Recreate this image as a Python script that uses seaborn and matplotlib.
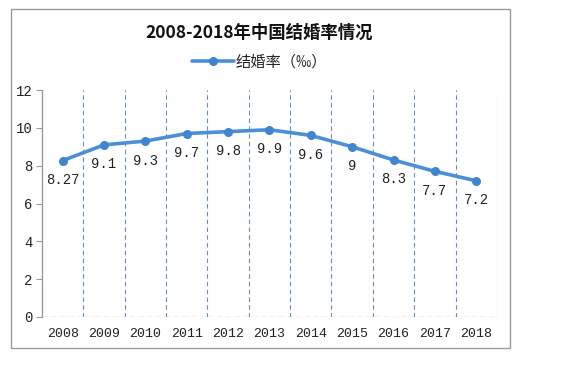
import numpy as np
import pandas as pd
import matplotlib
matplotlib.use("Agg")
import matplotlib.pyplot as plt
import seaborn as sns
from matplotlib.patches import Rectangle

years = ["2008", "2009", "2010", "2011", "2012", "2013", "2014", "2015", "2016", "2017", "2018"]
rate = [8.27, 9.1, 9.3, 9.7, 9.8, 9.9, 9.6, 9.0, 8.3, 7.7, 7.2]
labels = ["8.27", "9.1", "9.3", "9.7", "9.8", "9.9", "9.6", "9", "8.3", "7.7", "7.2"]

df = pd.DataFrame({"year": years, "rate": rate})
df["pos"] = np.arange(len(years))

sns.set_style("white")
plt.rcParams['font.family'] = ['Noto Sans CJK SC', 'DejaVu Sans']
num_font = ['Liberation Mono', 'DejaVu Sans Mono']

fig = plt.figure(figsize=(5.64, 3.68), dpi=100)
ax = fig.add_axes([0.0745, 0.1386, 0.8065, 0.6168])

line_color = "#4a8fd8"
sns.lineplot(data=df, x="pos", y="rate", ax=ax, color=line_color, linewidth=2.6,
             marker="o", markersize=6.5, markeredgewidth=0, markerfacecolor="#3f85d0",
             label="结婚率（‰）")

for i, (v, t) in enumerate(zip(rate, labels)):
    ax.annotate(t, (i, v), xytext=(0, -9), textcoords="offset points",
                ha="center", va="top", fontsize=10, color="#222222", family=num_font)

ax.set_xlim(-0.5, len(years) - 0.5)
ax.set_ylim(0, 12)
ax.set_yticks(range(0, 13, 2))
ax.set_xticks(df["pos"])
ax.set_xticklabels(years)
ax.set_xlabel("")
ax.set_ylabel("")
for lab in ax.get_xticklabels() + ax.get_yticklabels():
    lab.set_family(num_font)

for b in np.arange(0.5, len(years), 1.0):
    ax.axvline(b, color="#6a8fb0", linestyle=(0, (4, 3)), linewidth=0.8, zorder=0)
ax.axhline(0, color="#8a9aaa", linestyle=(0, (4, 3)), linewidth=0.9, zorder=0)

for s in ["top", "right", "bottom"]:
    ax.spines[s].set_visible(False)
ax.spines["left"].set_color("#999999")
ax.spines["left"].set_linewidth(1.0)
ax.tick_params(axis="y", left=True, length=4, color="#999999", labelsize=10, labelcolor="#222222", pad=3)
ax.tick_params(axis="x", bottom=False, length=0, labelsize=9.5, labelcolor="#222222", pad=8)

leg = ax.legend(loc="center", frameon=False, fontsize=11, handlelength=2.8, handletextpad=0.1)
leg.set_bbox_to_anchor((0.46, 0.832), transform=fig.transFigure)

fig.text(0.46, 0.912, "2008-2018年中国结婚率情况", ha="center", va="center",
         fontsize=12.5, fontweight="bold", color="#111111")

fig.patches.append(Rectangle((11 / 564, 1 - 348 / 368), 499 / 564, 339 / 368,
                             transform=fig.transFigure, fill=False,
                             edgecolor="#999999", linewidth=1.0))

fig.savefig("out.png", dpi=100)
